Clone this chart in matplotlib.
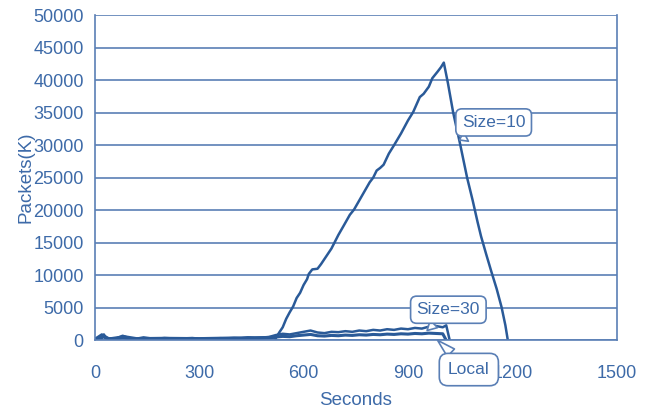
import matplotlib.pyplot as plt

plt.rcParams['font.family'] = ['Liberation Sans', 'DejaVu Sans']

# Size=10 run
t10 = [0, 20, 26, 32, 40, 85, 120, 200, 300, 400, 480, 510, 520, 530, 540, 550, 560, 570,
       580, 590, 600, 610, 615, 625, 640, 650, 660, 680, 700, 715, 733, 745, 760, 775, 790,
       800, 810, 820, 830, 845, 860, 880, 900, 915, 934, 945, 960, 970, 985, 995, 1003,
       1015, 1030, 1049, 1070, 1086, 1100, 1110, 1125, 1140, 1155, 1169, 1180, 1187]
v10 = [300, 300, 900, 350, 250, 600, 300, 350, 300, 400, 450, 500, 300, 1200, 2000, 3300,
       4300, 5200, 6500, 7300, 8500, 9400, 10200, 10900, 11000, 11700, 12500, 14100, 16200,
       17600, 19300, 20100, 21500, 22900, 24300, 25000, 26100, 26500, 27000, 28700, 30000,
       31800, 33800, 35100, 37400, 37900, 39000, 40300, 41300, 42000, 42700, 39500, 35000,
       30400, 25000, 21500, 18200, 16000, 13200, 10500, 7900, 5100, 2300, 0]

# Size=30 run
t30 = list(range(0, 1020, 20)) + [1010, 1020]
t30 = sorted(set(t30))
v30 = [200, 900, 300, 250, 700, 300, 250, 450, 300, 250, 350, 300, 250, 300, 350, 250,
       300, 280, 320, 300, 350, 300, 450, 380, 420, 500, 800, 1000, 900, 1100, 1300, 1500,
       1200, 1100, 1300, 1250, 1400, 1300, 1500, 1400, 1600, 1500, 1700, 1600, 1800, 1700,
       1900, 1800, 2100, 2200, 2000, 2300, 0]

# Local run
tl = list(range(0, 1010, 20)) + [1010]
vl = [150, 600, 200, 150, 400, 200, 150, 250, 200, 150, 200, 180, 150, 200, 220, 150,
      200, 180, 220, 200, 250, 200, 300, 250, 300, 350, 500, 600, 550, 700, 800, 900,
      700, 650, 750, 700, 800, 750, 850, 800, 900, 850, 950, 900, 1000, 950, 1050, 1000,
      1100, 1050, 1000, 0]

line_c = '#2A5A98'
grid_c = '#5A7FB5'
text_c = '#3D6AA8'

fig, ax = plt.subplots(figsize=(6.54, 4.09), dpi=100)
fig.subplots_adjust(left=0.145, right=0.943, top=0.963, bottom=0.168)

ax.plot(tl, vl, color=line_c, lw=2.2)
ax.plot(t30, v30, color=line_c, lw=1.8)
ax.plot(t10, v10, color=line_c, lw=1.8)

ax.set_xlim(0, 1500)
ax.set_ylim(0, 50000)
ax.set_xticks(range(0, 1501, 300))
ax.set_yticks(range(0, 50001, 5000))
ax.yaxis.grid(True, color=grid_c, lw=1.2)
ax.set_axisbelow(True)
for s in ['left', 'right', 'bottom']:
    ax.spines[s].set_color(grid_c)
    ax.spines[s].set_linewidth(1.2)
ax.spines['top'].set_visible(False)
ax.tick_params(length=0, labelsize=13, colors=text_c, pad=8)
ax.tick_params(axis='x', pad=18)
ax.set_xlabel('Seconds', fontsize=13.5, color=text_c, labelpad=7)
ax.set_ylabel('Packets(K)', fontsize=13.5, color=text_c, labelpad=-1)

box = dict(boxstyle='round,pad=0.35', fc='white', ec=grid_c, lw=1.2)
arrow = dict(arrowstyle='wedge,tail_width=0.6', fc='white', ec=grid_c, lw=1.2,
             shrinkA=0, shrinkB=0)
ax.annotate('Size=10', xy=(1048, 30800), xytext=(1055, 33500), fontsize=12.5,
            color=text_c, bbox=box, arrowprops=arrow, va='center')
ax.annotate('Size=30', xy=(955, 1500), xytext=(925, 4700), fontsize=12.5,
            color=text_c, bbox=box, arrowprops=arrow, va='center')
ax.annotate('Local', xy=(985, 0), xytext=(1015, -4500), fontsize=12.5,
            color=text_c, bbox=dict(boxstyle='round,pad=0.5', fc='white', ec=grid_c, lw=1.2),
            arrowprops=arrow, va='center', annotation_clip=False)

fig.savefig('out.png', dpi=100)
